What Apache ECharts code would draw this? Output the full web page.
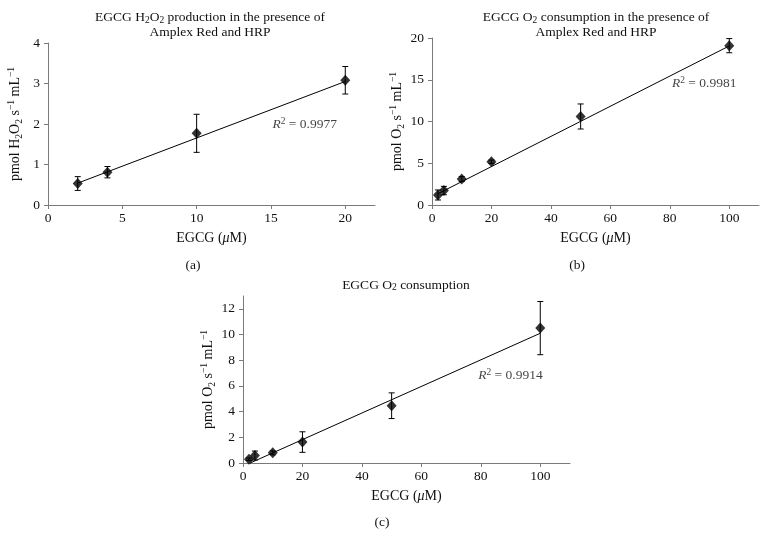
<!DOCTYPE html>
<html><head><meta charset="utf-8">
<script src="https://cdn.jsdelivr.net/npm/echarts@6/dist/echarts.min.js"></script>
<style>html,body{margin:0;padding:0;background:#fff}#c{width:768px;height:548px}</style>
</head><body><div id="c"></div>
<script>
// ---- Data ----
// Panel (a): EGCG H2O2 production in the presence of Amplex Red and HRP
const aX = [2, 4, 10, 20];
const aY = [0.53, 0.81, 1.77, 3.08];
const aErr = [0.17, 0.14, 0.47, 0.34];
const aTrend = [[2, 0.54], [20, 3.05]];
const aR2 = '0.9977';
const aR2Pos = [15.1, 2.0];
const aXTicks = [0, 5, 10, 15, 20];
const aYTicks = [0, 1, 2, 3, 4];

// Panel (b): EGCG O2 consumption in the presence of Amplex Red and HRP
const bX = [2, 4, 10, 20, 50, 100];
const bY = [1.2, 1.73, 3.1, 5.18, 10.6, 19.08];
const bErr = [0.6, 0.5, 0.3, 0.2, 1.5, 0.85];
const bTrend = [[2, 1.35], [100, 19.05]];
const bR2 = '0.9981';
const bR2Pos = [80.7, 14.6];
const bXTicks = [0, 20, 40, 60, 80, 100];
const bYTicks = [0, 5, 10, 15, 20];

// Panel (c): EGCG O2 consumption
const cX = [2, 4, 10, 20, 50, 100];
const cY = [0.29, 0.58, 0.79, 1.63, 4.46, 10.5];
const cErr = [0.1, 0.35, 0.15, 0.8, 1.0, 2.07];
const cTrend = [[2.4, 0], [100, 10.1]];
const cR2 = '0.9914';
const cR2Pos = [79.1, 6.8];
const cXTicks = [0, 20, 40, 60, 80, 100];
const cYTicks = [0, 2, 4, 6, 8, 10, 12];

// ---- Styling ----
const FONT = '"Liberation Serif","Times New Roman",serif';
const AXIS_COLOR = '#7a7a7a';
const TEXT_COLOR = '#111';
const FS = 13.5;
const rich = {
  sub: {fontSize: 9.5, fontFamily: FONT, verticalAlign: 'bottom', lineHeight: 10, color: TEXT_COLOR},
  sup: {fontSize: 9.5, fontFamily: FONT, verticalAlign: 'top', lineHeight: 10, color: TEXT_COLOR},
  it: {fontStyle: 'italic', fontFamily: FONT, fontSize: 14, color: TEXT_COLOR}
};
const grichStyle = {
  sub: {fontSize: 9.5, fontFamily: FONT, verticalAlign: 'bottom', lineHeight: 10, fill: TEXT_COLOR},
  sup: {fontSize: 9.5, fontFamily: FONT, verticalAlign: 'top', lineHeight: 10, fill: TEXT_COLOR},
  it: {fontStyle: 'italic', fontFamily: FONT, fontSize: FS, fill: TEXT_COLOR}
};

const grids = [
  {left: 48, top: 43, width: 327, height: 162},
  {left: 432, top: 38, width: 327, height: 167},
  {left: 243, top: 296, width: 327, height: 167}
].map(g => Object.assign({outerBoundsMode: 'none', containLabel: false}, g));

function xAxis(gi, max, ticks, nameGap) {
  return {
    type: 'value', gridIndex: gi, min: 0, max: max,
    splitLine: {show: false},
    axisLine: {onZero: false, lineStyle: {color: AXIS_COLOR, width: 1}},
    axisTick: {show: true, length: 4, customValues: ticks, lineStyle: {color: AXIS_COLOR}},
    axisLabel: {customValues: ticks, color: TEXT_COLOR, fontSize: FS, fontFamily: FONT, margin: 6},
    name: 'EGCG ({it|μ}M)', nameLocation: 'middle', nameGap: nameGap,
    nameTextStyle: {color: TEXT_COLOR, fontSize: 14, fontFamily: FONT, rich: rich}
  };
}
function yAxis(gi, max, ticks, name, nameGap) {
  return {
    type: 'value', gridIndex: gi, min: 0, max: max,
    splitLine: {show: false},
    axisLine: {show: true, onZero: false, lineStyle: {color: AXIS_COLOR, width: 1}},
    axisTick: {show: true, length: 4, customValues: ticks, lineStyle: {color: AXIS_COLOR}},
    axisLabel: {customValues: ticks, color: TEXT_COLOR, fontSize: FS, fontFamily: FONT, margin: 8},
    name: name, nameLocation: 'middle', nameRotate: 90, nameGap: nameGap,
    nameTextStyle: {color: TEXT_COLOR, fontSize: 14, fontFamily: FONT, lineHeight: 18, rich: rich}
  };
}

function errSeries(gi, xs, ys, es) {
  return {
    type: 'custom', xAxisIndex: gi, yAxisIndex: gi, z: 2,
    data: xs.map((x, i) => [x, ys[i], es[i]]),
    encode: {x: 0, y: 1},
    renderItem: function (params, api) {
      const x = api.value(0), y = api.value(1), e = api.value(2);
      const t = api.coord([x, y + e]);
      const b = api.coord([x, y - e]);
      const w = 3;
      const st = {stroke: '#000', lineWidth: 1};
      return {type: 'group', children: [
        {type: 'line', shape: {x1: t[0], y1: t[1], x2: b[0], y2: b[1]}, style: st},
        {type: 'line', shape: {x1: t[0] - w, y1: t[1], x2: t[0] + w, y2: t[1]}, style: st},
        {type: 'line', shape: {x1: b[0] - w, y1: b[1], x2: b[0] + w, y2: b[1]}, style: st}
      ]};
    }
  };
}
function trendSeries(gi, pts) {
  return {type: 'line', xAxisIndex: gi, yAxisIndex: gi, data: pts, symbol: 'none',
    lineStyle: {color: '#000', width: 1}, z: 3, silent: true, clip: false};
}
function pointSeries(gi, xs, ys) {
  return {type: 'scatter', xAxisIndex: gi, yAxisIndex: gi, data: xs.map((x, i) => [x, ys[i]]),
    symbol: 'diamond', symbolSize: [10, 11], itemStyle: {color: '#000'}, z: 4};
}
function r2Series(gi, pos, val) {
  return {type: 'scatter', xAxisIndex: gi, yAxisIndex: gi, data: [pos], symbolSize: 0.01, z: 5,
    silent: true,
    label: {show: true, position: 'right', distance: 0, formatter: '{it|R}{sup|2} = ' + val,
      color: TEXT_COLOR, fontSize: FS, fontFamily: FONT, lineHeight: 16,
      rich: {it: {fontStyle: 'italic', fontSize: FS, fontFamily: FONT, color: TEXT_COLOR},
             sup: rich.sup}}};
}

function gtext(x, y, text, size) {
  return {type: 'text', x: x, y: y, silent: true,
    style: {text: text, align: 'center', verticalAlign: 'middle', fill: TEXT_COLOR,
      fontSize: size, fontFamily: FONT, lineHeight: 15.5, rich: grichStyle}};
}

const option = {
  backgroundColor: '#fff',
  animation: false,
  grid: grids,
  xAxis: [xAxis(0, 22, aXTicks, 26), xAxis(1, 110, bXTicks, 26), xAxis(2, 110, cXTicks, 26)],
  yAxis: [
    yAxis(0, 4, aYTicks, 'pmol H{sub|2}O{sub|2} s{sup|−1} mL{sup|−1}', 24),
    yAxis(1, 20, bYTicks, 'pmol O{sub|2} s{sup|−1} mL{sup|−1}', 24),
    yAxis(2, 13, cYTicks, 'pmol O{sub|2} s{sup|−1} mL{sup|−1}', 26)
  ],
  series: [
    errSeries(0, aX, aY, aErr), trendSeries(0, aTrend), pointSeries(0, aX, aY), r2Series(0, aR2Pos, aR2),
    errSeries(1, bX, bY, bErr), trendSeries(1, bTrend), pointSeries(1, bX, bY), r2Series(1, bR2Pos, bR2),
    errSeries(2, cX, cY, cErr), trendSeries(2, cTrend), pointSeries(2, cX, cY), r2Series(2, cR2Pos, cR2)
  ],
  graphic: [
    gtext(210, 25, 'EGCG H{sub|2}O{sub|2} production in the presence of\nAmplex Red and HRP', FS),
    gtext(596, 25, 'EGCG O{sub|2} consumption in the presence of\nAmplex Red and HRP', FS),
    gtext(406, 285, 'EGCG O{sub|2} consumption', FS),
    gtext(193, 265, '(a)', FS),
    gtext(577, 265, '(b)', FS),
    gtext(382, 522, '(c)', FS)
  ]
};
const chart = echarts.init(document.getElementById('c'), null, {renderer: 'canvas'});
chart.setOption(option);
</script>
</body></html>
